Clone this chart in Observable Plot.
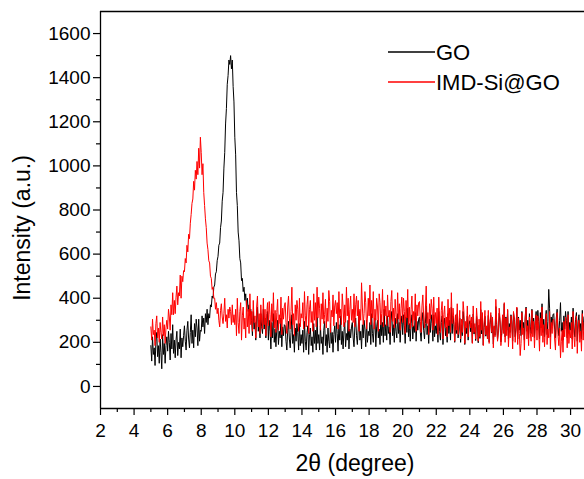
<!DOCTYPE html>
<html>
<head>
<meta charset="utf-8">
<script src="https://cdn.jsdelivr.net/npm/d3@7"></script>
<script src="https://cdn.jsdelivr.net/npm/@observablehq/plot@0.6"></script>
<style>
  html, body { margin: 0; padding: 0; background: #fff; }
  svg { display: block; }
</style>
</head>
<body>
<script>
// 2θ sampling grid of the scans (degrees)
const twoThetaStart = 5.0;
const twoThetaStep = 0.05;

// GO intensity (a.u.), 5.00 → 30.80, one row per degree
const goIntensity = [
  185, 115, 225, 145, 175, 95, 205, 245, 135, 185, 105, 215, 155, 80, 235, 145, 195, 105, 185, 225,
  160, 250, 200, 120, 240, 170, 280, 150, 210, 130, 210, 250, 140, 200, 170, 260, 130, 220, 180, 230,
  275, 205, 165, 255, 295, 215, 175, 245, 325, 195, 255, 175, 285, 225, 305, 265, 185, 305, 205, 255,
  250, 320, 270, 310, 240, 330, 290, 350, 280, 330, 310, 370, 360, 410, 400, 450, 460, 510, 520, 570,
  590, 640, 650, 720, 750, 840, 880, 990, 1060, 1190, 1260, 1370, 1410, 1480, 1460, 1500, 1440, 1480, 1360, 1290,
  1130, 1050, 880, 820, 700, 660, 580, 560, 480, 490, 430, 450, 390, 420, 360, 400, 340, 370, 320, 350,
  300, 230, 340, 260, 290, 210, 320, 360, 250, 300, 220, 330, 270, 240, 350, 260, 310, 220, 300, 340,
  210, 300, 250, 170, 290, 220, 330, 200, 260, 180, 260, 300, 190, 250, 220, 310, 180, 270, 230, 280,
  275, 205, 165, 255, 295, 215, 175, 245, 325, 195, 235, 155, 265, 205, 285, 245, 165, 285, 185, 235,
  195, 255, 155, 295, 205, 165, 245, 275, 145, 235, 265, 185, 225, 155, 285, 195, 255, 165, 315, 195,
  235, 165, 275, 195, 225, 145, 255, 295, 185, 235, 155, 265, 205, 175, 285, 195, 245, 155, 235, 275,
  200, 290, 240, 160, 280, 210, 320, 190, 250, 170, 250, 290, 180, 240, 210, 300, 170, 260, 220, 270,
  290, 220, 180, 270, 310, 230, 190, 260, 340, 210, 250, 170, 280, 220, 300, 260, 180, 300, 200, 250,
  230, 290, 190, 330, 240, 200, 280, 310, 180, 270, 300, 220, 260, 190, 320, 230, 290, 200, 350, 230,
  280, 210, 320, 240, 270, 190, 300, 340, 230, 280, 200, 310, 250, 220, 330, 240, 290, 200, 280, 320,
  235, 325, 275, 195, 315, 245, 355, 225, 285, 205, 285, 325, 215, 275, 245, 335, 205, 295, 255, 305,
  315, 245, 205, 295, 335, 255, 215, 285, 365, 235, 275, 195, 305, 245, 325, 285, 205, 325, 225, 275,
  240, 300, 200, 340, 250, 210, 290, 320, 190, 280, 310, 230, 270, 200, 330, 240, 300, 210, 360, 240,
  320, 280, 200, 290, 240, 330, 220, 250, 310, 200, 280, 230, 340, 300, 190, 270, 240, 320, 210, 280,
  298, 248, 288, 198, 328, 238, 268, 208, 318, 278, 198, 278, 218, 348, 238, 308, 188, 268, 318, 228,
  272, 222, 322, 202, 282, 322, 242, 302, 192, 272, 232, 362, 282, 212, 252, 332, 292, 202, 242, 312,
  255, 375, 225, 315, 255, 345, 215, 285, 245, 325, 295, 205, 335, 305, 225, 265, 355, 215, 315, 255,
  300, 230, 340, 260, 290, 210, 320, 360, 250, 300, 220, 330, 270, 240, 350, 260, 310, 220, 300, 340,
  255, 345, 295, 215, 335, 265, 375, 245, 305, 225, 305, 345, 235, 295, 440, 355, 225, 315, 275, 325,
  330, 260, 220, 310, 350, 270, 230, 300, 380, 250, 290, 210, 320, 260, 340, 300, 220, 340, 240, 290,
  255, 315, 215, 355, 265, 225, 305, 335, 205, 295, 325, 245, 285, 215, 345, 255, 315
];

// IMD-Si@GO intensity (a.u.), 5.00 → 30.80, one row per degree
const imdIntensity = [
  270, 210, 305, 235, 255, 185, 285, 320, 220, 265, 200, 290, 245, 215, 315, 230, 280, 195, 265, 300,
  260, 350, 315, 255, 370, 325, 425, 325, 390, 330, 405, 455, 370, 425, 410, 505, 400, 500, 475, 525,
  520, 580, 560, 640, 610, 690, 670, 740, 780, 830, 850, 930, 890, 980, 940, 1020, 960, 1080, 990, 1130,
  1060, 960, 1010, 880, 820, 760, 720, 650, 620, 570, 560, 500, 490, 440, 450, 400, 400, 350, 380, 330,
  355, 300, 270, 345, 375, 315, 285, 330, 400, 295, 325, 265, 350, 310, 360, 340, 280, 370, 290, 325,
  280, 350, 230, 400, 290, 240, 340, 380, 210, 320, 360, 260, 310, 220, 390, 270, 350, 240, 420, 280,
  340, 250, 390, 290, 320, 220, 360, 410, 270, 330, 240, 370, 300, 260, 400, 280, 350, 230, 330, 380,
  275, 385, 325, 225, 375, 295, 425, 265, 345, 245, 335, 395, 255, 325, 285, 405, 235, 355, 305, 365,
  380, 290, 240, 360, 410, 310, 260, 340, 450, 280, 330, 230, 370, 300, 390, 350, 250, 400, 270, 330,
  310, 380, 260, 430, 320, 270, 370, 410, 240, 350, 390, 290, 340, 250, 420, 300, 380, 270, 450, 310,
  405, 355, 255, 375, 305, 425, 285, 325, 395, 265, 355, 295, 435, 385, 245, 345, 315, 415, 275, 365,
  390, 330, 380, 260, 430, 310, 350, 280, 420, 360, 270, 370, 290, 450, 320, 400, 250, 350, 410, 300,
  350, 290, 420, 270, 370, 410, 320, 390, 250, 350, 300, 470, 360, 280, 330, 430, 380, 260, 310, 400,
  320, 460, 280, 390, 310, 430, 260, 350, 300, 400, 360, 250, 420, 380, 280, 330, 440, 270, 390, 320,
  365, 275, 415, 315, 345, 245, 385, 435, 295, 355, 265, 395, 325, 285, 425, 305, 375, 255, 355, 405,
  290, 400, 340, 240, 390, 310, 440, 280, 360, 260, 350, 410, 270, 340, 300, 420, 250, 370, 320, 380,
  385, 295, 245, 365, 415, 315, 265, 345, 455, 285, 335, 235, 375, 305, 395, 355, 255, 405, 275, 335,
  285, 355, 235, 405, 295, 245, 345, 385, 215, 325, 365, 265, 315, 225, 395, 275, 355, 245, 425, 285,
  355, 305, 205, 325, 255, 375, 235, 275, 345, 215, 305, 245, 385, 335, 195, 295, 265, 365, 225, 315,
  325, 265, 315, 195, 365, 245, 285, 215, 355, 295, 205, 305, 225, 385, 255, 335, 185, 285, 345, 235,
  275, 215, 345, 195, 295, 335, 245, 315, 175, 275, 225, 395, 285, 205, 255, 355, 305, 185, 235, 325,
  240, 380, 200, 310, 230, 350, 180, 270, 220, 320, 280, 170, 340, 300, 200, 250, 360, 190, 310, 240,
  140, 195, 335, 235, 265, 165, 305, 355, 215, 275, 185, 315, 245, 205, 345, 225, 295, 175, 275, 325,
  210, 320, 260, 160, 310, 230, 360, 200, 280, 180, 270, 330, 190, 260, 220, 340, 170, 290, 240, 300,
  305, 215, 165, 285, 335, 235, 185, 265, 130, 205, 255, 155, 295, 225, 315, 275, 175, 325, 195, 255,
  220, 290, 170, 340, 230, 180, 280, 320, 150, 260, 300, 200, 250, 160, 330, 210, 290
];

const seriesNames = ["GO", "IMD-Si@GO"];
const seriesColors = ["#000000", "#ff0000"];

const xMajorTicks = [2, 4, 6, 8, 10, 12, 14, 16, 18, 20, 22, 24, 26, 28, 30];
const xMinorTicks = [3, 5, 7, 9, 11, 13, 15, 17, 19, 21, 23, 25, 27, 29];
const yMajorTicks = [0, 200, 400, 600, 800, 1000, 1200, 1400, 1600];
const yMinorTicks = [100, 300, 500, 700, 900, 1100, 1300, 1500];

const xDomain = [2, 30.83];
const yDomain = [-100, 1700];

const rows = goIntensity.map((v, i) => ({
  t: twoThetaStart + i * twoThetaStep,
  go: v,
  imd: imdIntensity[i]
}));

const W = 584, H = 479;
const FONT = "'Liberation Sans', Arial, Helvetica, sans-serif";

const chart = Plot.plot({
  width: W,
  height: H,
  marginLeft: 100,
  marginRight: 0,
  marginTop: 11,
  marginBottom: 71,
  style: { fontFamily: FONT, fontSize: "19px", color: "#000", background: "#fff", overflow: "visible" },
  x: { domain: xDomain },
  y: { domain: yDomain },
  marks: [
    Plot.axisX({ ticks: xMajorTicks, tickSize: 7, tickPadding: 8, label: null, fontSize: 19, strokeWidth: 1.2, tickFormat: d => String(d) }),
    Plot.axisX({ ticks: xMinorTicks, tickSize: 4, text: null, label: null, strokeWidth: 1.2 }),
    Plot.axisY({ ticks: yMajorTicks, tickSize: 7, tickPadding: 3, label: null, fontSize: 19, strokeWidth: 1.2, tickFormat: d => String(d) }),
    Plot.axisY({ ticks: yMinorTicks, tickSize: 4, text: null, label: null, strokeWidth: 1.2 }),
    Plot.line(rows, { x: "t", y: "go", stroke: seriesColors[0], strokeWidth: 1 }),
    Plot.line(rows, { x: "t", y: "imd", stroke: seriesColors[1], strokeWidth: 1 }),
    Plot.ruleY([yDomain[0]], { stroke: "#000", strokeWidth: 1.3 }),
    Plot.ruleY([yDomain[1]], { stroke: "#000", strokeWidth: 1.3 }),
    Plot.ruleX([xDomain[0]], { stroke: "#000", strokeWidth: 1.3 })
  ]
});

document.body.appendChild(chart);

const svg = d3.select(chart);

// axis titles
svg.append("text")
  .attr("x", 355).attr("y", 471)
  .attr("text-anchor", "middle")
  .attr("font-family", FONT).attr("font-size", 23).attr("fill", "#000")
  .text("2θ (degree)");

svg.append("text")
  .attr("transform", "translate(30,228) rotate(-90)")
  .attr("text-anchor", "middle")
  .attr("font-family", FONT).attr("font-size", 23).attr("fill", "#000")
  .text("Intensity (a.u.)");

// legend
const lg = svg.append("g").attr("text-anchor", "start");
seriesNames.forEach((name, i) => {
  const y = 52 + i * 30;
  lg.append("line")
    .attr("x1", 388).attr("x2", 435).attr("y1", y).attr("y2", y)
    .attr("stroke", seriesColors[i]).attr("stroke-width", 1.3);
  lg.append("text")
    .attr("x", 436).attr("y", y).attr("dy", "0.36em")
    .attr("text-anchor", "start")
    .attr("font-family", FONT).attr("font-size", 22).attr("fill", "#000")
    .text(name);
});
</script>
</body>
</html>
